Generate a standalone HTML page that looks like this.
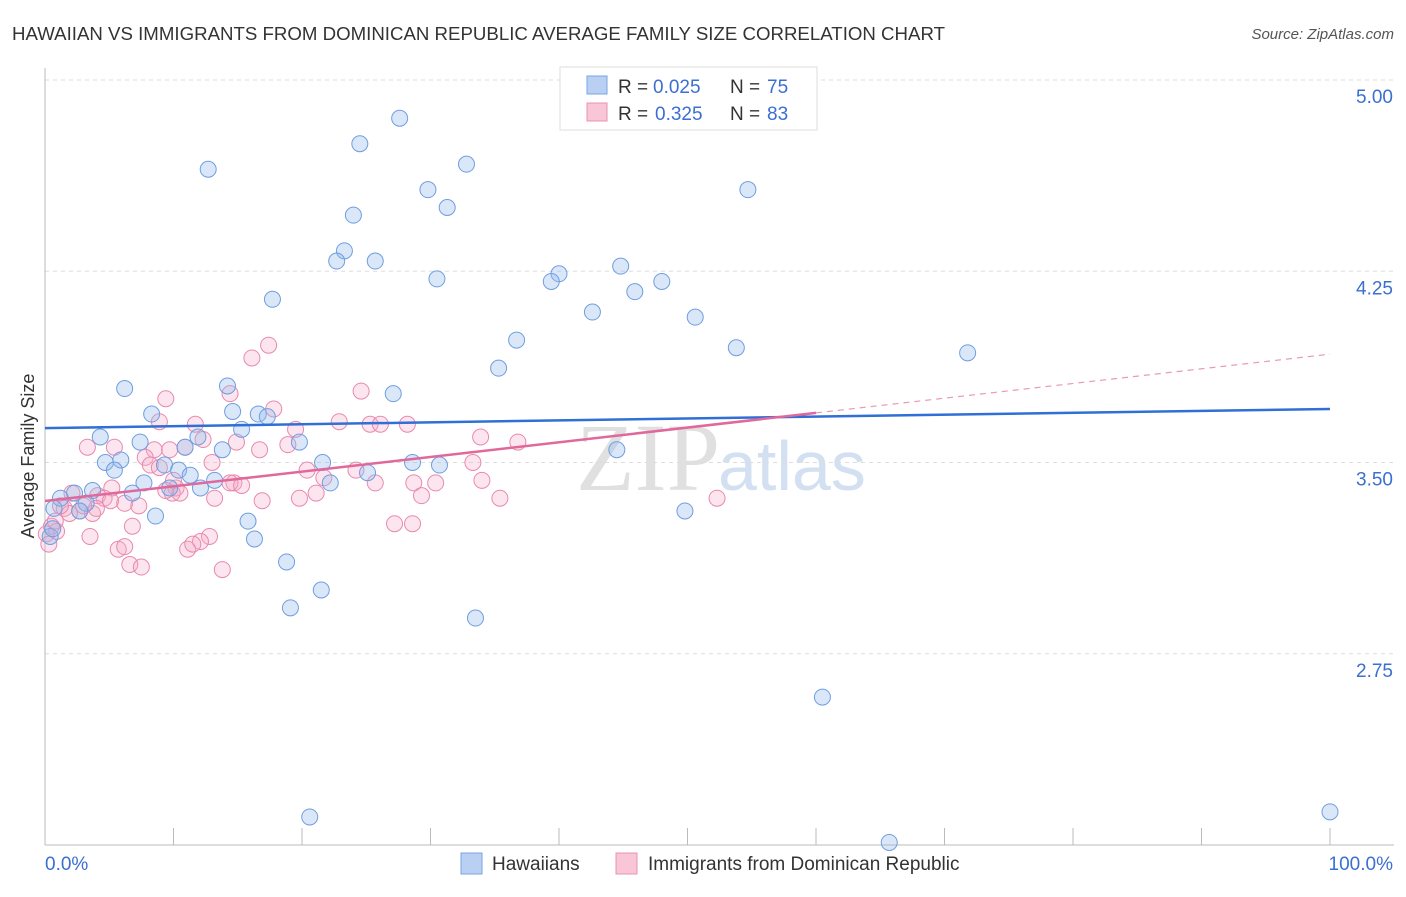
<!DOCTYPE html>
<html><head><meta charset="utf-8"><style>
body{margin:0;background:#fff;font-family:"Liberation Sans",sans-serif;}
</style></head><body>
<svg id="chart" width="1406" height="892" xmlns="http://www.w3.org/2000/svg">
<text x="12" y="40" font-size="18.5" fill="#333" textLength="933" lengthAdjust="spacingAndGlyphs">HAWAIIAN VS IMMIGRANTS FROM DOMINICAN REPUBLIC AVERAGE FAMILY SIZE CORRELATION CHART</text>
<text x="1394" y="39" font-size="15" fill="#555" font-style="italic" text-anchor="end">Source: ZipAtlas.com</text>
<text x="34" y="456" font-size="18" fill="#333" text-anchor="middle" transform="rotate(-90 34 456)">Average Family Size</text>
<text x="720" y="490" font-size="96" fill="#e0e0e0" font-family="Liberation Serif" text-anchor="end">ZIP</text>
<text x="718" y="490" font-size="70" fill="#d3e0f2" text-anchor="start">atlas</text>
<g id="grid"></g><g id="axes"></g><g id="pts"></g><g id="trends"></g>
<g>
<rect x="560" y="67" width="257" height="63" fill="#fff" stroke="#ddd"/>
<rect x="587" y="76" width="20" height="18" fill="#b9d0f3" stroke="#7aa5e3"/>
<rect x="587" y="103" width="20" height="18" fill="#f8c6d6" stroke="#e993b2"/>
<g font-size="19" fill="#333">
<text x="618" y="93">R =</text><text x="653" y="93" fill="#3b6fd0">0.025</text>
<text x="730" y="93">N =</text><text x="767" y="93" fill="#3b6fd0">75</text></g>
<g font-size="19" fill="#333">
<text x="618" y="120">R =</text><text x="655" y="120" fill="#3b6fd0">0.325</text>
<text x="730" y="120">N =</text><text x="767" y="120" fill="#3b6fd0">83</text></g>
</g>
<g>
<rect x="461" y="853" width="21" height="21" fill="#b9d0f3" stroke="#7aa5e3"/>
<text x="492" y="870" font-size="19" fill="#333">Hawaiians</text>
<rect x="616" y="853" width="21" height="21" fill="#f8c6d6" stroke="#e993b2"/>
<text x="648" y="870" font-size="19" fill="#333">Immigrants from Dominican Republic</text>
</g>
</svg>
<script>
const yTicks=[2.75,3.50,4.25,5.00];
const yTickLabels=["2.75","3.50","4.25","5.00"];
const xTickLabels=["0.0%","100.0%"];
const blueX=[12.7,27.6,24.5,32.8,29.8,54.7,31.3,24.0,23.3,22.7,25.7,30.5,40.0,39.4,44.8,48.0,45.9,17.7,42.6,50.6,36.7,53.8,71.8,35.3,6.2,14.2,27.1,8.3,14.6,16.6,17.3,15.3,4.3,7.4,10.9,11.9,19.8,13.8,44.5,4.7,5.9,9.3,10.4,21.6,28.6,30.7,5.4,11.3,13.2,7.7,25.1,22.2,12.1,9.7,1.2,2.3,3.7,6.8,3.2,2.7,0.7,8.6,15.8,49.8,16.3,0.4,18.8,21.5,19.1,33.5,60.5,20.6,65.7,100,0.6];
const blueY=[4.65,4.85,4.75,4.67,4.57,4.57,4.50,4.47,4.33,4.29,4.29,4.22,4.24,4.21,4.27,4.21,4.17,4.14,4.09,4.07,3.98,3.95,3.93,3.87,3.79,3.80,3.77,3.69,3.70,3.69,3.68,3.63,3.60,3.58,3.56,3.60,3.58,3.55,3.55,3.50,3.51,3.49,3.47,3.50,3.50,3.49,3.47,3.45,3.43,3.42,3.46,3.42,3.40,3.40,3.36,3.38,3.39,3.38,3.34,3.31,3.32,3.29,3.27,3.31,3.20,3.21,3.11,3.00,2.93,2.89,2.58,2.11,2.01,2.13,3.24];
const pinkX=[17.4,16.1,14.4,9.4,24.6,17.8,8.9,22.9,25.3,26.1,28.2,11.7,12.3,14.9,19.5,33.9,36.8,3.3,5.4,8.5,9.7,10.9,18.9,16.7,7.8,8.2,13.0,8.9,20.4,33.3,24.2,14.7,14.4,21.7,25.7,28.7,30.4,34.0,5.2,10.2,9.9,10.5,21.1,29.3,35.4,52.3,2.1,4.1,4.6,6.2,7.3,1.5,2.7,3.7,4.0,1.9,16.9,13.2,6.8,0.5,0.9,0.1,3.5,0.3,12.8,12.1,11.1,5.7,6.2,6.6,7.5,13.8,27.2,28.6,11.5,0.8,1.2,5.1,3.0,9.4,10.0,15.3,19.8];
const pinkY=[3.96,3.91,3.77,3.75,3.78,3.71,3.66,3.66,3.65,3.65,3.65,3.65,3.59,3.58,3.63,3.60,3.58,3.56,3.56,3.55,3.55,3.56,3.57,3.55,3.52,3.49,3.50,3.48,3.47,3.50,3.47,3.42,3.42,3.44,3.42,3.42,3.42,3.43,3.40,3.40,3.38,3.38,3.38,3.37,3.36,3.36,3.38,3.37,3.36,3.34,3.33,3.32,3.31,3.30,3.32,3.30,3.35,3.36,3.25,3.25,3.23,3.22,3.21,3.18,3.21,3.19,3.16,3.16,3.17,3.10,3.09,3.08,3.26,3.26,3.18,3.27,3.33,3.35,3.33,3.39,3.43,3.41,3.36];
const blueTrend=[3.635,3.71];
const pinkTrend=[3.349,3.925];
const pinkSolidEnd=60;
const NS="http://www.w3.org/2000/svg";
const X=v=>45+v*12.85, Y=v=>80+(5-v)*255;
function mk(tag,attrs,parent){const e=document.createElementNS(NS,tag);for(const k in attrs)e.setAttribute(k,attrs[k]);document.getElementById(parent).appendChild(e);return e;}
yTicks.forEach((t,i)=>{
 const g=mk('line',{x1:45,x2:1394,y1:Y(t),y2:Y(t),stroke:'#ddd','stroke-dasharray':'4,4'},'grid');
 
 
 const tx=mk('text',{x:1393,y:Y(t)+23,'font-size':19,fill:'#3b6fd0','text-anchor':'end'},'grid');
 tx.textContent=yTickLabels[i];
 
 
});
const ax=mk('line',{x1:45,x2:1394,y1:845,y2:845,stroke:'#bbb'},'axes');


const ay=mk('line',{x1:45,x2:45,y1:68,y2:845,stroke:'#bbb'},'axes');


for(let i=0;i<=10;i++){const t=mk('line',{x1:X(i*10),x2:X(i*10),y1:828,y2:845,stroke:'#bbb'},'axes');
 
 }
[[0,'start',45],[1,'end',1393]].forEach(([i,a,x])=>{const t=mk('text',{x:x,y:870,'font-size':19,fill:'#3b6fd0','text-anchor':a},'axes');t.textContent=xTickLabels[i];
 
 });
function pts(xs,ys,fill,stroke,name){xs.forEach((x,i)=>{const c=mk('circle',{cx:X(x),cy:Y(ys[i]),r:8,fill:fill,stroke:stroke,'stroke-width':1},'pts');
 
 });}
pts(pinkX,pinkY,'rgba(244,170,198,0.3)','#e88aae','dominican-point');
pts(blueX,blueY,'rgba(150,185,235,0.35)','#6f9ee0','hawaiian-point');
const bl=mk('line',{x1:X(0),y1:Y(blueTrend[0]),x2:X(100),y2:Y(blueTrend[1]),stroke:'#2f6fd6','stroke-width':2.5},'trends');


const pAt=x=>pinkTrend[0]+(pinkTrend[1]-pinkTrend[0])*x/100;
const pl=mk('line',{x1:X(0),y1:Y(pAt(0)),x2:X(pinkSolidEnd),y2:Y(pAt(pinkSolidEnd)),stroke:'#e0689a','stroke-width':2.5},'trends');


const pd=mk('line',{x1:X(pinkSolidEnd),y1:Y(pAt(pinkSolidEnd)),x2:X(100),y2:Y(pAt(100)),stroke:'#e89ab8','stroke-width':1.2,'stroke-dasharray':'6,5'},'trends');


</script>
</body></html>
